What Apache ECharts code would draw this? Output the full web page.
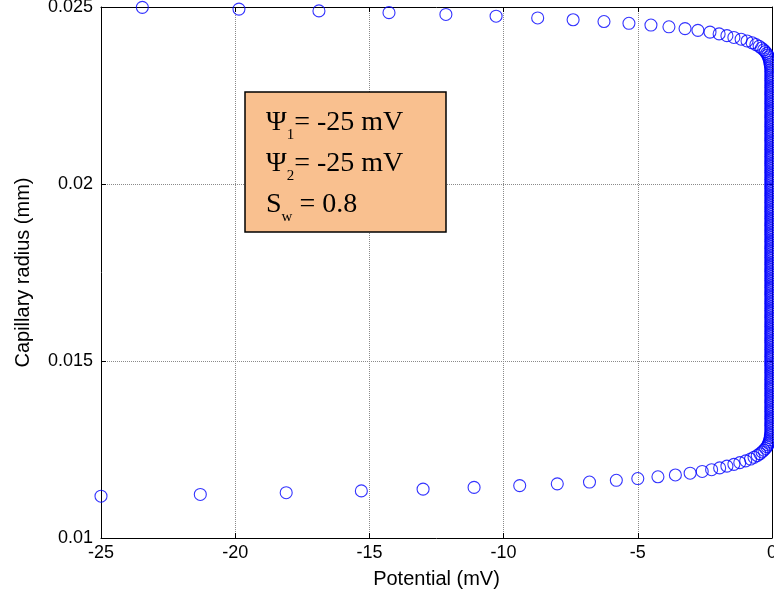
<!DOCTYPE html>
<html>
<head>
<meta charset="utf-8">
<script src="https://cdn.jsdelivr.net/npm/echarts@6/dist/echarts.min.js"></script>
<style>
html,body{margin:0;padding:0;background:#fff;}
#chart{width:774px;height:601px;}
</style>
</head>
<body>
<div id="chart"></div>
<script>
// ---- data (potential in mV, capillary radius in mm) ----
const xTicks = [-25, -20, -15, -10, -5, 0];
const yTicks = [0.01, 0.015, 0.02, 0.025];

const bottomRadius = [
  0.01118,0.01123,0.01128,0.01133,0.01138,0.01143,0.01148,0.01153,0.01158,0.01163,
  0.01168,0.01173,0.01178,0.01183,0.01188,0.01193,0.01198,0.01203,0.01208,0.01213,
  0.01218,0.01223,0.01228,0.01233,0.01238,0.01243,0.01248,0.01253,0.01258,0.01263,
  0.01268,0.01273,0.01278,0.01283,0.01288,0.01293
];
const bottomPotential = [
  -25.0,-21.3,-18.1,-15.3,-13.0,-11.1,-9.4,-8.0,-6.8,-5.8,
  -5.0,-4.25,-3.6,-3.05,-2.6,-2.25,-1.95,-1.68,-1.42,-1.2,
  -0.98,-0.8,-0.67,-0.55,-0.45,-0.37,-0.3,-0.24,-0.19,-0.15,
  -0.12,-0.1,-0.08,-0.07,-0.06,-0.05
];

const middleRadius = [
  0.01298,
  0.01303,0.01308,0.01313,0.01318,0.01323,0.01328,0.01333,0.01338,0.01343,0.01348,
  0.01353,0.01358,0.01363,0.01368,0.01373,0.01378,0.01383,0.01388,0.01393,0.01398,
  0.01403,0.01408,0.01413,0.01418,0.01423,0.01428,0.01433,0.01438,0.01443,0.01448,
  0.01453,0.01458,0.01463,0.01468,0.01473,0.01478,0.01483,0.01488,0.01493,0.01498,
  0.01503,0.01508,0.01513,0.01518,0.01523,0.01528,0.01533,0.01538,0.01543,0.01548,
  0.01553,0.01558,0.01563,0.01568,0.01573,0.01578,0.01583,0.01588,0.01593,0.01598,
  0.01603,0.01608,0.01613,0.01618,0.01623,0.01628,0.01633,0.01638,0.01643,0.01648,
  0.01653,0.01658,0.01663,0.01668,0.01673,0.01678,0.01683,0.01688,0.01693,0.01698,
  0.01703,0.01708,0.01713,0.01718,0.01723,0.01728,0.01733,0.01738,0.01743,0.01748,
  0.01753,0.01758,0.01763,0.01768,0.01773,0.01778,0.01783,0.01788,0.01793,0.01798,
  0.01803,0.01808,0.01813,0.01818,0.01823,0.01828,0.01833,0.01838,0.01843,0.01848,
  0.01853,0.01858,0.01863,0.01868,0.01873,0.01878,0.01883,0.01888,0.01893,0.01898,
  0.01903,0.01908,0.01913,0.01918,0.01923,0.01928,0.01933,0.01938,0.01943,0.01948,
  0.01953,0.01958,0.01963,0.01968,0.01973,0.01978,0.01983,0.01988,0.01993,0.01998,
  0.02003,0.02008,0.02013,0.02018,0.02023,0.02028,0.02033,0.02038,0.02043,0.02048,
  0.02053,0.02058,0.02063,0.02068,0.02073,0.02078,0.02083,0.02088,0.02093,0.02098,
  0.02103,0.02108,0.02113,0.02118,0.02123,0.02128,0.02133,0.02138,0.02143,0.02148,
  0.02153,0.02158,0.02163,0.02168,0.02173,0.02178,0.02183,0.02188,0.02193,0.02198,
  0.02203,0.02208,0.02213,0.02218,0.02223,0.02228,0.02233,0.02238,0.02243,0.02248,
  0.02253,0.02258,0.02263,0.02268,0.02273,0.02278,0.02283,0.02288,0.02293,0.02298,
  0.02303,0.02308,0.02313,0.02318,0.02323
];
const middlePotential = [
  -0.04,
  -0.04,-0.04,-0.04,-0.04,-0.04,-0.04,-0.04,-0.04,-0.04,-0.04,
  -0.04,-0.04,-0.04,-0.04,-0.04,-0.04,-0.04,-0.04,-0.04,-0.04,
  -0.04,-0.04,-0.04,-0.04,-0.04,-0.04,-0.04,-0.04,-0.04,-0.04,
  -0.04,-0.04,-0.04,-0.04,-0.04,-0.04,-0.04,-0.04,-0.04,-0.04,
  -0.04,-0.04,-0.04,-0.04,-0.04,-0.04,-0.04,-0.04,-0.04,-0.04,
  -0.04,-0.04,-0.04,-0.04,-0.04,-0.04,-0.04,-0.04,-0.04,-0.04,
  -0.04,-0.04,-0.04,-0.04,-0.04,-0.04,-0.04,-0.04,-0.04,-0.04,
  -0.04,-0.04,-0.04,-0.04,-0.04,-0.04,-0.04,-0.04,-0.04,-0.04,
  -0.04,-0.04,-0.04,-0.04,-0.04,-0.04,-0.04,-0.04,-0.04,-0.04,
  -0.04,-0.04,-0.04,-0.04,-0.04,-0.04,-0.04,-0.04,-0.04,-0.04,
  -0.04,-0.04,-0.04,-0.04,-0.04,-0.04,-0.04,-0.04,-0.04,-0.04,
  -0.04,-0.04,-0.04,-0.04,-0.04,-0.04,-0.04,-0.04,-0.04,-0.04,
  -0.04,-0.04,-0.04,-0.04,-0.04,-0.04,-0.04,-0.04,-0.04,-0.04,
  -0.04,-0.04,-0.04,-0.04,-0.04,-0.04,-0.04,-0.04,-0.04,-0.04,
  -0.04,-0.04,-0.04,-0.04,-0.04,-0.04,-0.04,-0.04,-0.04,-0.04,
  -0.04,-0.04,-0.04,-0.04,-0.04,-0.04,-0.04,-0.04,-0.04,-0.04,
  -0.04,-0.04,-0.04,-0.04,-0.04,-0.04,-0.04,-0.04,-0.04,-0.04,
  -0.04,-0.04,-0.04,-0.04,-0.04,-0.04,-0.04,-0.04,-0.04,-0.04,
  -0.04,-0.04,-0.04,-0.04,-0.04,-0.04,-0.04,-0.04,-0.04,-0.04,
  -0.04,-0.04,-0.04,-0.04,-0.04,-0.04,-0.04,-0.04,-0.04,-0.04,
  -0.04,-0.04,-0.04,-0.04,-0.04
];

const topRadius = [
  0.02499,0.02494,0.02489,0.02484,0.02479,0.02474,0.02469,0.02464,0.02459,0.02454,
  0.02449,0.02444,0.02439,0.02434,0.02429,0.02424,0.02419,0.02414,0.02409,0.02404,
  0.02399,0.02394,0.02389,0.02384,0.02379,0.02374,0.02369,0.02364,0.02359,0.02354,
  0.02349,0.02344,0.02339,0.02334,0.02329
];
const topPotential = [
  -23.46,-19.86,-16.88,-14.27,-12.15,-10.28,-8.73,-7.41,-6.26,-5.33,
  -4.51,-3.84,-3.24,-2.76,-2.31,-1.97,-1.68,-1.42,-1.15,-0.93,
  -0.74,-0.6,-0.48,-0.39,-0.31,-0.25,-0.2,-0.16,-0.13,-0.11,
  -0.09,-0.08,-0.07,-0.06,-0.05
];

const annotationLines = [
  ['Ψ', '1', '= -25 mV'],
  ['Ψ', '2', '= -25 mV'],
  ['S', 'w', ' = 0.8']
];

// ---- build ----
function pairs(xs, ys) { return xs.map((x, i) => [x, ys[i]]); }
const points = [].concat(
  pairs(bottomPotential, bottomRadius),
  pairs(middlePotential, middleRadius),
  pairs(topPotential, topRadius)
);

const sansFont = 'Liberation Sans, Arial, sans-serif';
const serifFont = 'Liberation Serif, Times New Roman, serif';

const xMin = xTicks[0], xMax = xTicks[xTicks.length - 1], xStep = xTicks[1] - xTicks[0];
const yMin = yTicks[0], yMax = yTicks[yTicks.length - 1], yStep = 0.005;

const chart = echarts.init(document.getElementById('chart'), null, { renderer: 'canvas' });

const baseX = {
  type: 'value', min: xMin, max: xMax, interval: xStep,
  axisLine: { show: true, onZero: false, lineStyle: { color: '#000', width: 1 } },
  axisTick: { show: true, inside: true, length: 5, lineStyle: { color: '#000' } }
};
const baseY = {
  type: 'value', min: yMin, max: yMax, interval: yStep,
  axisLine: { show: true, onZero: false, lineStyle: { color: '#000', width: 1 } },
  axisTick: { show: true, inside: true, length: 5, lineStyle: { color: '#000' } }
};

const richText = annotationLines.map(l => '{m|' + l[0] + '}{s|' + l[1] + '}{m|' + l[2] + '}').join('\n');

chart.setOption({
  animation: false,
  backgroundColor: '#fff',
  grid: { left: 101, right: 2, top: 7, bottom: 63, containLabel: false, outerBoundsMode: 'none' },
  xAxis: [
    Object.assign({}, baseX, {
      position: 'bottom',
      name: 'Potential (mV)', nameLocation: 'middle', nameGap: 31,
      nameTextStyle: { color: '#000', fontSize: 20, fontFamily: sansFont },
      axisLabel: { color: '#000', fontSize: 18, fontFamily: sansFont, margin: 6, hideOverlap: false },
      splitLine: { show: true, lineStyle: { color: '#8a8a8a', type: 'dotted', width: 1 } }
    }),
    Object.assign({}, baseX, {
      position: 'top',
      axisLabel: { show: false },
      splitLine: { show: false }
    })
  ],
  yAxis: [
    Object.assign({}, baseY, {
      position: 'left',
      name: 'Capillary radius (mm)', nameLocation: 'middle', nameGap: 68,
      nameTextStyle: { color: '#000', fontSize: 20, fontFamily: sansFont },
      axisLabel: { color: '#000', fontSize: 18, fontFamily: sansFont, margin: 8 },
      splitLine: { show: true, lineStyle: { color: '#8a8a8a', type: 'dotted', width: 1 } }
    }),
    Object.assign({}, baseY, {
      position: 'right',
      axisLabel: { show: false },
      splitLine: { show: false }
    })
  ],
  series: [{
    type: 'scatter',
    xAxisIndex: 0, yAxisIndex: 0,
    data: points,
    symbol: 'circle',
    symbolSize: 12,
    clip: false,
    itemStyle: { color: 'rgba(0,0,0,0)', borderColor: '#0000ff', borderWidth: 1.1 },
    emphasis: { disabled: true },
    z: 5
  }],
  graphic: [
    {
      type: 'rect', z: 100,
      shape: { x: 245, y: 92, width: 201, height: 140 },
      style: { fill: '#f9c08f', stroke: '#000', lineWidth: 1.5 }
    },
    {
      type: 'text', z: 101,
      x: 266, y: 102,
      style: {
        text: richText,
        fontFamily: serifFont,
        verticalAlign: 'top',
        align: 'left',
        rich: {
          m: { fontSize: 28, fontFamily: serifFont, fill: '#000', lineHeight: 41, verticalAlign: 'middle' },
          s: { fontSize: 15, fontFamily: serifFont, fill: '#000', lineHeight: 12, verticalAlign: 'bottom' }
        }
      }
    }
  ]
});
</script>
</body>
</html>
